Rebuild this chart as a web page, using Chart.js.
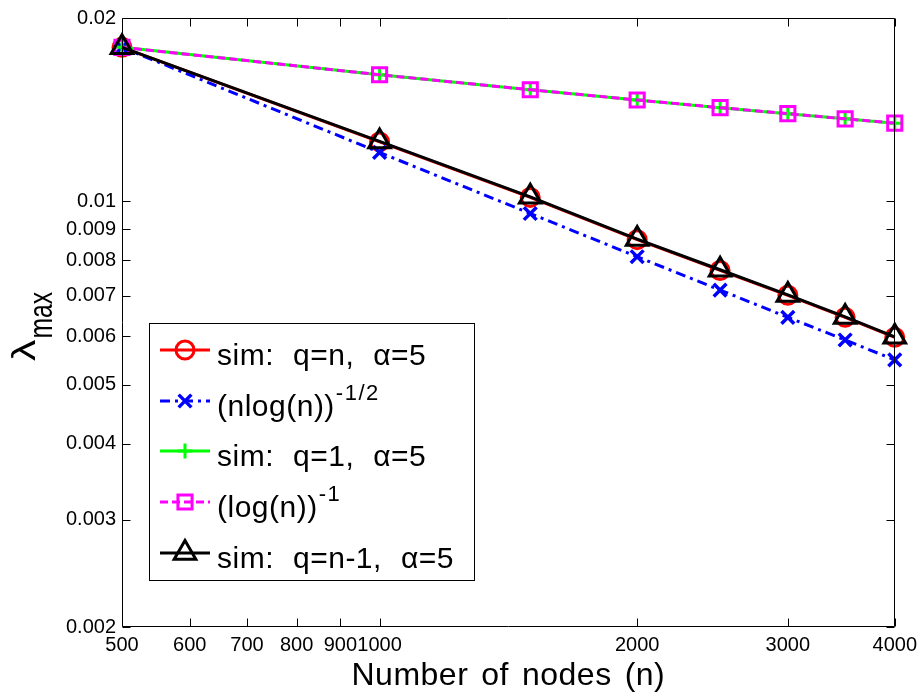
<!DOCTYPE html>
<html>
<head>
<meta charset="utf-8">
<script src="https://cdn.jsdelivr.net/npm/chart.js@4/dist/chart.umd.min.js"></script>
<style>
  html, body { margin: 0; padding: 0; background: #fff; }
  #wrap { width: 923px; height: 698px; }
</style>
</head>
<body>
<div id="wrap"><canvas id="c" width="923" height="698"></canvas></div>
<script>
// Network size n
const nodes = [500, 1000, 1500, 2000, 2500, 3000, 3500, 4000];

// Largest eigenvalue, simulated (q = n, alpha = 5)
const simQn = [0.0179, 0.01252, 0.01015, 0.00865, 0.00770, 0.00701, 0.00645, 0.00598];
// Reference curve (n log n)^(-1/2)
const nlognCurve = [0.0179, 0.01203, 0.00955, 0.00811, 0.00715, 0.00645, 0.00592, 0.00549];
// Simulated (q = 1, alpha = 5)
const simQ1 = [0.0179, 0.01614, 0.01525, 0.01467, 0.01425, 0.01393, 0.01366, 0.01344];
// Reference curve (log n)^(-1), scaled
const lognCurve = [0.0179, 0.01614, 0.01525, 0.01467, 0.01425, 0.01393, 0.01366, 0.01344];
// Simulated (q = n-1, alpha = 5)
const simQn1 = [0.0179, 0.01254, 0.01017, 0.00867, 0.00772, 0.00702, 0.00646, 0.00599];

const seriesLabels = [
  'sim: q=n, α=5',
  '(nlog(n))^{-1/2}',
  'sim: q=1, α=5',
  '(log(n))^{-1}',
  'sim: q=n-1, α=5'
];

const xTicks = [500, 600, 700, 800, 900, 1000, 2000, 3000, 4000];
const xTickLabels = ['500', '600', '700', '800', '900', '1000', '2000', '3000', '4000'];
const yTicks = [0.002, 0.003, 0.004, 0.005, 0.006, 0.007, 0.008, 0.009, 0.01, 0.02];
const yTickLabels = ['0.002', '0.003', '0.004', '0.005', '0.006', '0.007', '0.008', '0.009', '0.01', '0.02'];

const xTitle = 'Number of nodes (n)';
const yTitleMain = 'λ';
const yTitleSub = 'max';

const FONT = 'Arial, "Liberation Sans", Helvetica, sans-serif';

const pts = (ys) => nodes.map((x, i) => ({ x: x, y: ys[i] }));

const styles = [
  { color: '#ff0000', dash: [],            marker: 'circle',   r: 9,    mw: 3,   order: 4 },
  { color: '#0000ff', dash: [10, 5, 3, 5], marker: 'crossRot', r: 9,    mw: 3.5, order: 3 },
  { color: '#00ff00', dash: [],            marker: 'cross',    r: 7.5,  mw: 3,   order: 2 },
  { color: '#ff00ff', dash: [8, 4],        marker: 'rect',     r: 10,   mw: 3,   order: 1 },
  { color: '#000000', dash: [],            marker: 'triangle', r: 12.5, mw: 3,   order: 0 }
];
const seriesData = [simQn, nlognCurve, simQ1, lognCurve, simQn1];

const datasets = seriesData.map((ys, i) => {
  const s = styles[i];
  return {
    label: seriesLabels[i],
    data: pts(ys),
    borderColor: s.color,
    borderWidth: 3,
    borderDash: s.dash,
    pointStyle: s.marker,
    pointRadius: s.r,
    pointBorderWidth: s.mw,
    pointBorderColor: s.color,
    pointBackgroundColor: 'rgba(0,0,0,0)',
    fill: false,
    tension: 0,
    clip: false,
    order: s.order
  };
});

function drawMarker(ctx, style, x, y, r, color, lw) {
  ctx.save();
  ctx.strokeStyle = color;
  ctx.lineWidth = lw;
  ctx.setLineDash([]);
  ctx.beginPath();
  if (style === 'circle') {
    ctx.arc(x, y, r, 0, Math.PI * 2);
  } else if (style === 'crossRot') {
    const d = r * Math.SQRT1_2;
    ctx.moveTo(x - d, y - d); ctx.lineTo(x + d, y + d);
    ctx.moveTo(x + d, y - d); ctx.lineTo(x - d, y + d);
  } else if (style === 'cross') {
    ctx.moveTo(x - r, y); ctx.lineTo(x + r, y);
    ctx.moveTo(x, y - r); ctx.lineTo(x, y + r);
  } else if (style === 'rect') {
    const s = r * Math.SQRT1_2;
    ctx.rect(x - s, y - s, 2 * s, 2 * s);
  } else if (style === 'triangle') {
    const a = Math.PI * 2 / 3;
    ctx.moveTo(x, y - r);
    ctx.lineTo(x + Math.sin(a) * r, y - Math.cos(a) * r);
    ctx.lineTo(x - Math.sin(a) * r, y - Math.cos(a) * r);
    ctx.closePath();
  }
  ctx.stroke();
  ctx.restore();
}

// words laid out one by one with a wider gap than a plain space
function drawWords(ctx, text, x, y, gap) {
  const words = text.split(' ');
  let cx = x;
  words.forEach((w, i) => {
    ctx.fillText(w, cx, y);
    cx += ctx.measureText(w).width + (i < words.length - 1 ? gap : 0);
  });
  return cx;
}
function measureWords(ctx, text, gap) {
  const words = text.split(' ');
  return words.reduce((s, w) => s + ctx.measureText(w).width, 0) + gap * (words.length - 1);
}

const framePlugin = {
  id: 'frame',
  afterDatasetsDraw(chart) {
    const ctx = chart.ctx;
    const a = chart.chartArea;
    const xs = chart.scales.x, ys = chart.scales.y;
    const L = Math.round(a.left) + 0.5, R = Math.round(a.right) - 0.5;
    const T = Math.round(a.top) + 0.5, B = Math.round(a.bottom) - 0.5;
    const tl = 8;
    ctx.save();
    ctx.strokeStyle = '#000';
    ctx.lineWidth = 1;
    ctx.setLineDash([]);
    ctx.beginPath();
    xTicks.forEach(v => {
      const px = Math.round(xs.getPixelForValue(v)) + 0.5;
      ctx.moveTo(px, B); ctx.lineTo(px, B - tl);
      ctx.moveTo(px, T); ctx.lineTo(px, T + tl);
    });
    yTicks.forEach(v => {
      const py = Math.round(ys.getPixelForValue(v)) + 0.5;
      ctx.moveTo(L, py); ctx.lineTo(L + tl, py);
      ctx.moveTo(R, py); ctx.lineTo(R - tl, py);
    });
    ctx.stroke();
    ctx.beginPath();
    ctx.rect(L, T, R - L, B - T);
    ctx.stroke();

    // legend
    const box = { x: 149.5, y: 323.5, w: 325, h: 257 };
    ctx.fillStyle = '#fff';
    ctx.fillRect(box.x, box.y, box.w, box.h);
    ctx.strokeRect(box.x, box.y, box.w, box.h);
    const rowY = [350, 401, 451, 502, 553];
    seriesLabels.forEach((lab, i) => {
      const s = styles[i];
      const y = rowY[i];
      ctx.save();
      ctx.strokeStyle = s.color;
      ctx.lineWidth = 3;
      ctx.setLineDash(s.dash);
      ctx.beginPath();
      ctx.moveTo(160, y); ctx.lineTo(210, y);
      ctx.stroke();
      ctx.restore();
      drawMarker(ctx, s.marker, 185, y, s.r, s.color, s.mw);

      const parts = lab.split('^{');
      ctx.fillStyle = '#000';
      ctx.textAlign = 'left';
      ctx.textBaseline = 'alphabetic';
      ctx.font = '30px ' + FONT;
      ctx.letterSpacing = '0.5px';
      const endX = drawWords(ctx, parts[0], 217, y + 15, 19);
      if (parts.length > 1) {
        const sup = parts[1].replace('}', '');
        ctx.font = '22px ' + FONT;
        ctx.letterSpacing = '1.5px';
        ctx.fillText(sup, endX + 1, y - 1);
      }
      ctx.letterSpacing = '0px';
    });
    ctx.restore();
  },
  afterDraw(chart) {
    const ctx = chart.ctx;
    const a = chart.chartArea;
    ctx.save();
    ctx.fillStyle = '#000';
    ctx.textBaseline = 'alphabetic';
    ctx.textAlign = 'left';
    // x axis title
    ctx.font = '32px ' + FONT;
    ctx.letterSpacing = '0.5px';
    const w = measureWords(ctx, xTitle, 13);
    drawWords(ctx, xTitle, (a.left + a.right) / 2 - w / 2, 685, 13);
    ctx.letterSpacing = '0px';

    // y axis title: lambda with subscript, rotated
    ctx.translate(35, 361);
    ctx.rotate(-Math.PI / 2);
    ctx.font = '33px ' + FONT;
    const lw = ctx.measureText(yTitleMain).width;
    ctx.save();
    ctx.scale(1.3, 1);
    ctx.fillText(yTitleMain, 0, 0);
    ctx.restore();
    ctx.save();
    ctx.translate(lw * 1.3 + 1, 17);
    ctx.scale(0.75, 1);
    ctx.fillText(yTitleSub, 0, 0);
    ctx.restore();
    ctx.restore();
  }
};

const tickFont = { family: FONT, size: 20 };

new Chart(document.getElementById('c'), {
  type: 'line',
  data: { datasets: datasets },
  options: {
    responsive: false,
    animation: false,
    events: [],
    layout: { padding: { left: 0, top: 17, right: 27, bottom: 0 } },
    plugins: { legend: { display: false }, tooltip: { enabled: false } },
    scales: {
      x: {
        type: 'logarithmic',
        min: 500,
        max: 4000,
        grid: { display: false, drawTicks: false },
        border: { display: false },
        afterBuildTicks: (scale) => { scale.ticks = xTicks.map(v => ({ value: v })); },
        afterFit: (scale) => { scale.height = 71; },
        ticks: {
          autoSkip: false,
          maxRotation: 0,
          minRotation: 0,
          padding: 6,
          color: '#000',
          font: tickFont,
          callback: (v, i) => xTickLabels[i]
        }
      },
      y: {
        type: 'logarithmic',
        min: 0.002,
        max: 0.02,
        grid: { display: false, drawTicks: false },
        border: { display: false },
        afterBuildTicks: (scale) => { scale.ticks = yTicks.map(v => ({ value: v })); },
        afterFit: (scale) => { scale.width = 122; },
        ticks: {
          autoSkip: false,
          padding: 6,
          color: '#000',
          font: tickFont,
          callback: (v, i) => yTickLabels[i]
        }
      }
    }
  },
  plugins: [framePlugin]
});
</script>
</body>
</html>
